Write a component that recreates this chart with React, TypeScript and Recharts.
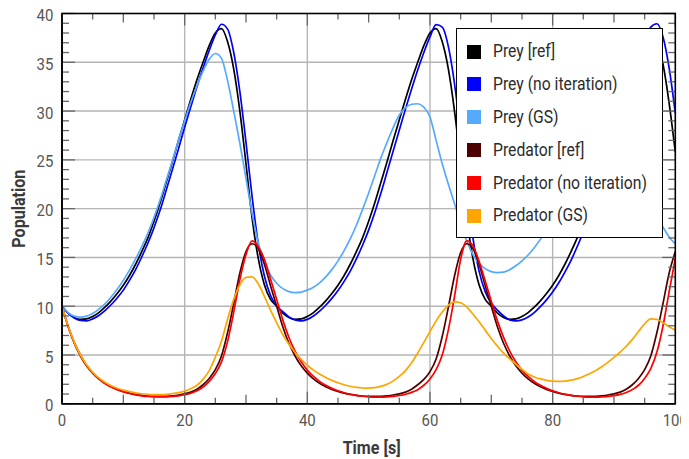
import React from 'react';
import { LineChart, Line, XAxis, YAxis, Legend, Label, ReferenceLine } from 'recharts';

const TIME = [
  0, 1, 2, 3, 4, 5, 6, 7, 8, 9, 10, 11, 12, 13, 14, 15, 16, 17, 18, 19, 20,
  21, 22, 23, 24, 25, 26, 27, 28, 29, 30, 31, 32, 33, 34, 35, 36, 37, 38, 39, 40,
  41, 42, 43, 44, 45, 46, 47, 48, 49, 50, 51, 52, 53, 54, 55, 56, 57, 58, 59, 60,
  61, 62, 63, 64, 65, 66, 67, 68, 69, 70, 71, 72, 73, 74, 75, 76, 77, 78, 79, 80,
  81, 82, 83, 84, 85, 86, 87, 88, 89, 90, 91, 92, 93, 94, 95, 96, 97, 98, 99, 100,
];

const PREY_REF = [
  10.0, 9.3, 8.85, 8.65, 8.7, 8.95, 9.35, 9.9, 10.55, 11.3, 12.15, 13.15, 14.3, 15.6, 17.0, 18.7, 20.6, 22.7, 24.8, 27.0,
  29.1, 31.2, 33.2, 35.0, 36.7, 38.0, 38.45, 37.1, 34.3, 30.0, 24.6, 19.0, 14.9, 12.2, 10.7,
  10.0, 9.3, 8.85, 8.65, 8.7, 8.95, 9.35, 9.9, 10.55, 11.3, 12.15, 13.15, 14.3, 15.6, 17.0, 18.7, 20.6, 22.7, 24.8, 27.0,
  29.1, 31.2, 33.2, 35.0, 36.7, 38.0, 38.45, 37.1, 34.3, 30.0, 24.6, 19.0, 14.9, 12.2, 10.7,
  10.0, 9.3, 8.85, 8.65, 8.7, 8.95, 9.35, 9.9, 10.55, 11.3, 12.15, 13.15, 14.3, 15.6, 17.0, 18.7, 20.6, 22.7, 24.8, 27.0,
  29.1, 31.2, 33.2, 35.0, 36.7, 38.0, 38.45, 37.2, 34.8, 30.8, 25.8,
];

const PREY_NOIT = [
  10.0, 9.3, 8.8, 8.55, 8.5, 8.7, 9.05, 9.55, 10.15, 10.85, 11.65, 12.65, 13.75, 15.05, 16.45, 18.05, 19.85, 21.9, 24.0, 26.15,
  28.35, 30.45, 32.5, 34.4, 36.2, 37.8, 38.9, 38.4, 36.0, 32.0, 26.8, 21.2, 16.4, 13.1, 11.1,
  10.0, 9.45, 8.9, 8.6, 8.5, 8.65, 9.0, 9.5, 10.1, 10.8, 11.6, 12.55, 13.6, 14.85, 16.25, 17.8, 19.6, 21.6, 23.75, 25.9,
  28.05, 30.2, 32.25, 34.2, 36.0, 37.6, 38.85, 38.6, 36.6, 32.8, 27.6, 21.9, 17.0, 13.6, 11.5,
  10.3, 9.6, 9.0, 8.6, 8.5, 8.6, 8.9, 9.35, 9.95, 10.65, 11.45, 12.4, 13.5, 14.7, 16.1, 17.6, 19.37, 21.33, 23.43, 25.57,
  27.74, 29.84, 31.9, 33.83, 35.6, 37.15, 38.6, 38.95, 37.6, 34.4, 29.8,
];

const PREY_GS = [
  10.0, 9.35, 8.98, 8.88, 8.98, 9.25, 9.7, 10.25, 10.95, 11.75, 12.65, 13.7, 14.85, 16.1, 17.5, 19.1, 20.9, 22.9, 24.9, 27.0,
  29.0, 30.9, 32.6, 34.1, 35.3, 35.9, 35.4, 33.1, 30.0, 26.7, 23.1, 19.5, 16.5, 14.5, 13.2, 12.35, 11.8, 11.5, 11.4, 11.45,
  11.65, 11.95, 12.4, 13.0, 13.75, 14.65, 15.7, 16.9, 18.3, 19.9, 21.6, 23.4, 25.2, 26.8, 28.3, 29.6, 30.35, 30.7, 30.75, 30.4,
  29.4, 27.0, 24.6, 22.5, 20.5, 18.5, 16.7, 15.3, 14.4, 13.85, 13.55, 13.45, 13.5, 13.75, 14.15, 14.65, 15.25, 16.0, 16.85, 17.8,
  18.8, 19.85, 20.95, 22.05, 23.15, 24.2, 25.15, 25.95, 26.55, 26.95, 27.1, 26.9, 26.3, 25.3, 24.0, 22.5, 20.9, 19.4, 18.1, 17.1,
  16.4,
];

const PRED_REF = [
  10.0, 7.9, 6.2, 4.9, 3.9, 3.15, 2.55, 2.1, 1.75, 1.48, 1.27, 1.1, 0.97, 0.87, 0.8, 0.76, 0.75, 0.77, 0.82, 0.9,
  1.02, 1.2, 1.5, 1.95, 2.6, 3.5, 4.9, 7.3, 10.3, 13.4, 15.6, 16.4, 15.9, 14.3, 12.1,
  10.0, 7.9, 6.2, 4.9, 3.9, 3.15, 2.55, 2.1, 1.75, 1.48, 1.27, 1.1, 0.97, 0.87, 0.8, 0.76, 0.75, 0.77, 0.82, 0.9,
  1.02, 1.2, 1.5, 1.95, 2.5, 3.3, 4.6, 6.9, 9.9, 13.1, 15.5, 16.4, 15.9, 14.3, 12.1,
  10.0, 7.9, 6.2, 4.9, 3.9, 3.15, 2.55, 2.1, 1.75, 1.48, 1.27, 1.1, 0.97, 0.87, 0.8, 0.76, 0.75, 0.77, 0.82, 0.9,
  1.02, 1.2, 1.5, 1.95, 2.6, 3.5, 4.9, 7.3, 10.3, 13.4, 15.6,
];

const PRED_NOIT = [
  10.0, 7.95, 6.3, 5.0, 3.95, 3.15, 2.55, 2.08, 1.72, 1.44, 1.22, 1.05, 0.92, 0.82, 0.75, 0.71, 0.7, 0.71, 0.75, 0.82,
  0.93, 1.08, 1.33, 1.72, 2.3, 3.1, 4.3, 6.4, 9.4, 12.7, 15.3, 16.7, 16.1, 14.8, 12.8, 10.7, 8.6, 6.8, 5.4, 4.3,
  3.45, 2.8, 2.3, 1.9, 1.58, 1.33, 1.13, 0.98, 0.86, 0.77, 0.71, 0.68, 0.68, 0.7, 0.76, 0.85, 0.98, 1.17, 1.45, 1.9,
  2.55, 3.5, 5.0, 7.6, 11.0, 14.8, 16.7, 16.2, 14.6, 12.6, 10.5, 8.5, 6.8, 5.4, 4.3, 3.45, 2.8, 2.3, 1.9, 1.58,
  1.33, 1.13, 0.98, 0.86, 0.77, 0.71, 0.68, 0.68, 0.7, 0.75, 0.84, 0.97, 1.16, 1.45, 1.9, 2.6, 3.6, 5.3, 8.0, 11.5,
  14.9,
];

const PRED_GS = [
  10.0, 7.95, 6.3, 5.0, 4.0, 3.25, 2.65, 2.2, 1.85, 1.6, 1.4, 1.25, 1.12, 1.03, 0.97, 0.95, 0.95, 0.98, 1.05, 1.15,
  1.3, 1.55, 1.9, 2.5, 3.4, 4.8, 6.4, 8.7, 10.7, 12.2, 12.95, 13.0, 12.3, 11.0, 9.6, 8.3, 7.1, 6.1, 5.25, 4.55,
  3.95, 3.45, 3.05, 2.7, 2.4, 2.15, 1.95, 1.8, 1.68, 1.62, 1.6, 1.65, 1.78, 2.0, 2.35, 2.8, 3.4, 4.2, 5.2, 6.3,
  7.4, 8.5, 9.4, 10.1, 10.45, 10.35, 9.9, 9.2, 8.4, 7.55, 6.7, 5.9, 5.2, 4.6, 4.05, 3.55, 3.05, 2.75, 2.55, 2.4,
  2.32, 2.3, 2.33, 2.42, 2.58, 2.8, 3.08, 3.4, 3.8, 4.25, 4.75, 5.3, 5.9, 6.6, 7.4, 8.2, 8.7, 8.65, 8.3, 7.9,
  7.55,
];

const X_LABELS = [0, 20, 40, 60, 80, 100];
const Y_LABELS = [0, 5, 10, 15, 20, 25, 30, 35, 40];
const X_MARKS = [0, 5, 10, 15, 20, 25, 30, 35, 40, 45, 50, 55, 60, 65, 70, 75, 80, 85, 90, 95, 100];
const Y_MARKS = [
  0, 1, 2, 3, 4, 5, 6, 7, 8, 9, 10, 11, 12, 13, 14, 15, 16, 17, 18, 19, 20,
  21, 22, 23, 24, 25, 26, 27, 28, 29, 30, 31, 32, 33, 34, 35, 36, 37, 38, 39, 40,
];
const X_GRID = [20, 40, 60, 80];
const Y_GRID = [5, 10, 15, 20, 25, 30, 35];

const SERIES = [
  { key: 'preyRef', name: 'Prey [ref]', color: '#000000', values: PREY_REF },
  { key: 'preyNoIt', name: 'Prey (no iteration)', color: '#0000ff', values: PREY_NOIT },
  { key: 'preyGS', name: 'Prey (GS)', color: '#55aaff', values: PREY_GS },
  { key: 'predRef', name: 'Predator [ref]', color: '#4d0000', values: PRED_REF },
  { key: 'predNoIt', name: 'Predator (no iteration)', color: '#ff0000', values: PRED_NOIT },
  { key: 'predGS', name: 'Predator (GS)', color: '#ffa500', values: PRED_GS },
];

const DATA = TIME.map((t, i) => {
  const row: Record<string, number> = { t };
  SERIES.forEach((s) => {
    row[s.key] = s.values[i];
  });
  return row;
});

const W = 689;
const H = 459;
const MARGIN = { top: 13.5, right: 13.7, bottom: 55.2, left: 62 };
const X_MIN = 0;
const X_MAX = 100;
const Y_MIN = 0;
const Y_MAX = 40;
const PLOT_L = MARGIN.left;
const PLOT_R = W - MARGIN.right;
const PLOT_T = MARGIN.top;
const PLOT_B = H - MARGIN.bottom;
const PLOT_W = PLOT_R - PLOT_L;
const PLOT_H = PLOT_B - PLOT_T;

const FONT = 'Roboto, "Noto Sans", sans-serif';
const TICK_COLOR = '#666666';
const GRID_COLOR = '#b5b5b5';
const THIN = 0.01;

const xTickLen = (v: number) => (v % 20 === 0 ? 12 : v % 10 === 0 ? 9 : 6);
const yTickLen = (v: number) => (v % 5 === 0 ? 13 : 7);
const xPix = (v: number) => PLOT_L + ((v - X_MIN) / (X_MAX - X_MIN)) * PLOT_W;
const yPix = (v: number) => PLOT_B - ((v - Y_MIN) / (Y_MAX - Y_MIN)) * PLOT_H;

const XTick = (props: any) => {
  const { x, y, payload } = props;
  return (
    <g transform={`translate(${x},${y + 22.5})`}>
      <text x={0} y={0} textAnchor="middle" fill="#555" fontSize={17} fontFamily={FONT} transform="scale(0.88,1)">
        {payload.value}
      </text>
    </g>
  );
};

const YTick = (props: any) => {
  const { x, y, payload } = props;
  return (
    <g transform={`translate(${x - 8.7},${y + 7.6})`}>
      <text x={0} y={0} textAnchor="end" fill="#555" fontSize={17} fontFamily={FONT} transform="scale(0.88,1)">
        {payload.value}
      </text>
    </g>
  );
};

const XTitle = (props: any) => {
  const vb = props.viewBox || { x: PLOT_L, y: PLOT_B, width: PLOT_W, height: 0 };
  return (
    <g transform={`translate(${vb.x + vb.width / 2 + 3},${vb.y + 50})`}>
      <text x={0} y={0} textAnchor="middle" fill="#3a3a3a" fontSize={18.5} fontWeight="bold" fontFamily={FONT} transform="scale(0.87,1)">
        Time [s]
      </text>
    </g>
  );
};

const YTitle = (props: any) => {
  const vb = props.viewBox || { x: PLOT_L, y: PLOT_T, width: 0, height: PLOT_H };
  return (
    <g transform={`translate(${vb.x - 37.5},${vb.y + vb.height / 2}) rotate(-90)`}>
      <text x={0} y={0} textAnchor="middle" fill="#3a3a3a" fontSize={18.5} fontWeight="bold" fontFamily={FONT} transform="scale(0.87,1)">
        Population
      </text>
    </g>
  );
};

const LegendBox = () => (
  <div
    style={{
      boxSizing: 'border-box',
      width: 207,
      height: 210,
      border: '1.3px solid #000',
      background: '#fff',
      paddingTop: 6,
      paddingLeft: 10,
    }}
  >
    {SERIES.map((s) => (
      <div key={s.key} style={{ height: 32.8, display: 'flex', alignItems: 'center' }}>
        <span style={{ display: 'inline-block', flex: 'none', width: 14, height: 14, background: s.color }} />
        <span
          style={{
            marginLeft: 12,
            fontFamily: FONT,
            fontSize: 18.5,
            lineHeight: 1,
            color: '#2b2b2b',
            whiteSpace: 'nowrap',
            display: 'inline-block',
            transform: 'scaleX(0.85)',
            transformOrigin: 'left center',
          }}
        >
          {s.name}
        </span>
      </div>
    ))}
  </div>
);

// Inward tick marks on all four sides plus the black plot frame.
const FrameAndTicks = () => (
  <svg
    width={W}
    height={H}
    style={{ position: 'absolute', left: 0, top: 0, pointerEvents: 'none', overflow: 'visible' }}
  >
    {X_MARKS.map((v) => (
      <g key={`x${v}`} stroke={TICK_COLOR} strokeWidth={1.3}>
        <line x1={xPix(v)} x2={xPix(v)} y1={PLOT_B} y2={PLOT_B - xTickLen(v)} />
        <line x1={xPix(v)} x2={xPix(v)} y1={PLOT_T} y2={PLOT_T + xTickLen(v)} />
      </g>
    ))}
    {Y_MARKS.map((v) => (
      <g key={`y${v}`} stroke={TICK_COLOR} strokeWidth={1.3}>
        <line x1={PLOT_L} x2={PLOT_L + yTickLen(v)} y1={yPix(v)} y2={yPix(v)} />
        <line x1={PLOT_R} x2={PLOT_R - yTickLen(v)} y1={yPix(v)} y2={yPix(v)} />
      </g>
    ))}
    <rect x={PLOT_L} y={PLOT_T} width={PLOT_W} height={PLOT_H} fill="none" stroke="#000" strokeWidth={1.6} />
  </svg>
);

export default function App() {
  return (
    <div style={{ width: W, height: H, position: 'relative', marginTop: -8, marginLeft: -8 }}>
      <LineChart width={W} height={H} data={DATA} margin={MARGIN}>
        {X_GRID.map((v) => (
          <ReferenceLine key={`gx${v}`} x={v} stroke={GRID_COLOR} strokeWidth={1.4} ifOverflow="visible" />
        ))}
        {Y_GRID.map((v) => (
          <ReferenceLine key={`gy${v}`} y={v} stroke={GRID_COLOR} strokeWidth={1.4} ifOverflow="visible" />
        ))}

        <XAxis
          dataKey="t"
          type="number"
          domain={[X_MIN, X_MAX]}
          allowDataOverflow
          ticks={X_LABELS}
          interval={0}
          height={THIN}
          tickSize={0}
          tickMargin={0}
          tickLine={false}
          axisLine={{ stroke: '#000', strokeWidth: 1.6 }}
          tick={<XTick />}
        >
          <Label content={<XTitle />} />
        </XAxis>
        <YAxis
          type="number"
          domain={[Y_MIN, Y_MAX]}
          allowDataOverflow
          ticks={Y_LABELS}
          interval={0}
          width={THIN}
          tickSize={0}
          tickMargin={0}
          tickLine={false}
          axisLine={{ stroke: '#000', strokeWidth: 1.6 }}
          tick={<YTick />}
        >
          <Label content={<YTitle />} />
        </YAxis>

        {SERIES.map((s) => (
          <Line
            key={s.key}
            dataKey={s.key}
            name={s.name}
            type="monotone"
            stroke={s.color}
            strokeWidth={1.7}
            dot={false}
            activeDot={false}
            isAnimationActive={false}
          />
        ))}

        <Legend
          layout="vertical"
          align="center"
          verticalAlign="middle"
          content={<LegendBox />}
          wrapperStyle={{ left: 455.7, top: 28.3, width: 207, height: 210, margin: 0 }}
        />
      </LineChart>
      <FrameAndTicks />
    </div>
  );
}
